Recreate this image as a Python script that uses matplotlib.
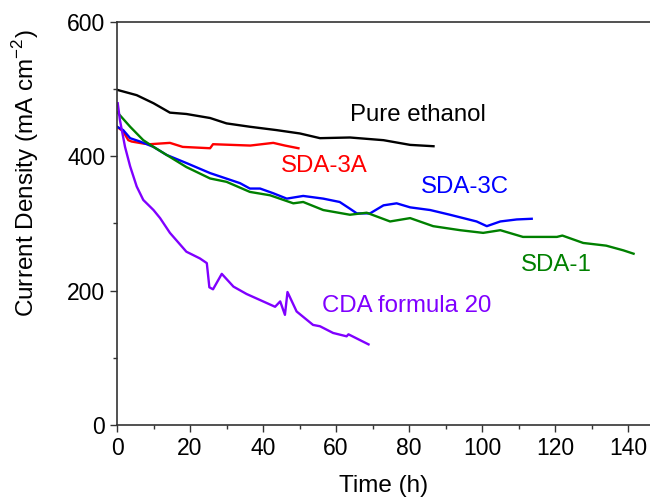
import matplotlib
matplotlib.use("Agg")
import matplotlib.pyplot as plt
from matplotlib.ticker import MultipleLocator

plt.rcParams['font.family'] = ['Liberation Sans', 'DejaVu Sans']
plt.rcParams['mathtext.fontset'] = 'custom'
plt.rcParams['mathtext.rm'] = 'Liberation Sans'

# Pure ethanol
t_eth = [0, 5.4, 10, 14.5, 19, 25.5, 30, 36.4, 43.7, 50.1, 55.6, 63.8, 73, 80.3, 86.7]
j_eth = [499, 491, 479, 465, 463, 457, 449, 444, 439, 434, 427, 428, 424, 417, 415]

# SDA-3A
t_3a = [0, 1.7, 3.1, 4, 7.2, 9, 14.5, 18, 25.5, 26.3, 36.5, 42.8, 46, 49.7]
j_3a = [444, 437, 424, 422, 419, 418, 420, 414, 412, 418, 416, 420, 416, 412]

# SDA-3C
t_3c = [0, 1.7, 3.6, 6.3, 10, 13.6, 19, 25.5, 33.7, 36.4, 39.2, 42.8, 46.5, 51,
        56.5, 61, 63.8, 65.7, 69.3, 73, 76.6, 80.3, 85.8, 91.2, 98.5, 101.3,
        105, 109.5, 113.6]
j_3c = [444, 439, 427, 422, 414, 402, 390, 375, 360, 352, 352, 345, 337, 341,
        337, 332, 322, 315, 315, 327, 330, 324, 320, 313, 303, 296,
        303, 306, 307]

# SDA-1
t_s1 = [0, 3.6, 7.2, 10, 13.6, 19, 25.5, 30, 36.4, 41.9, 48.3, 51, 56.5, 63.8,
        68.4, 74.8, 80.3, 86.6, 94, 100.3, 105, 111.2, 120.5, 122, 127.7, 134,
        138.7, 141.5]
j_s1 = [466, 444, 424, 414, 402, 384, 367, 362, 347, 342, 330, 332, 320, 313,
        316, 303, 308, 296, 290, 286, 290, 280, 280, 282, 271, 267,
        260, 255]

# CDA formula 20
t_cda = [0.2, 0.8, 2.2, 3.6, 5.4, 7.2, 10, 11.8, 14.5, 19, 22.7, 24.6, 25.3,
         26.3, 28.7, 31.9, 35.5, 39.2, 43.3, 44.7, 46, 46.7, 49.2, 53.7, 55.6,
         59.2, 62.9, 63.4, 68.9]
j_cda = [479, 454, 414, 385, 355, 335, 320, 308, 286, 258, 248, 241, 205,
         202, 225, 206, 195, 186, 176, 184, 164, 198, 169, 149, 147,
         137, 132, 135, 120]

series = [
    (t_eth, j_eth, 'black', 'Pure ethanol', 63.8, 461),
    (t_3a, j_3a, '#ff0000', 'SDA-3A', 45, 386),
    (t_3c, j_3c, '#0000ff', 'SDA-3C', 83.3, 354),
    (t_s1, j_s1, '#008000', 'SDA-1', 110.7, 238),
    (t_cda, j_cda, '#8000ff', 'CDA formula 20', 56.2, 177),
]

fig = plt.figure(figsize=(6.5, 4.99), dpi=100)
ax = fig.add_axes([0.18, 0.1483, 0.82, 0.8077])

for t, j, c, name, tx, ty in series:
    ax.plot(t, j, color=c, lw=1.7)
    ax.text(tx, ty, name, color=c, fontsize=17.3, va='center', ha='left')

ax.set_xlim(0, 146)
ax.set_ylim(0, 600)
ax.xaxis.set_major_locator(MultipleLocator(20))
ax.xaxis.set_minor_locator(MultipleLocator(10))
ax.yaxis.set_major_locator(MultipleLocator(200))
ax.yaxis.set_minor_locator(MultipleLocator(100))
ax.tick_params(which='both', direction='out', labelsize=16.5, color='#333333')
ax.tick_params(which='major', length=5, width=1)
ax.tick_params(which='minor', length=3, width=1)
ax.spines['right'].set_visible(False)
for s in ['left', 'bottom', 'top']:
    ax.spines[s].set_color('#333333')
    ax.spines[s].set_linewidth(1.2)

ax.set_xlabel('Time (h)', fontsize=17.5, labelpad=11)
ax.set_ylabel('Current Density (mA cm$^{-2}$)', fontsize=17.5)
ax.yaxis.set_label_coords(-0.142, 0.625)

fig.savefig('out.png', dpi=100)
